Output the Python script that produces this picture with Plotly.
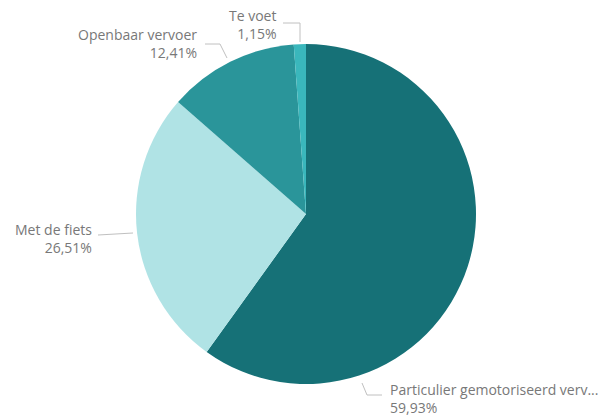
import plotly.graph_objects as go

categories = ["Particulier gemotoriseerd vervoer", "Met de fiets", "Openbaar vervoer", "Te voet"]
values = [59.93, 26.51, 12.41, 1.15]
colors = ["#167177", "#b0e3e5", "#2a959a", "#3ab7bc"]
display_names = ["Particulier gemotoriseerd verv...", "Met de fiets", "Openbaar vervoer", "Te voet"]

W, H = 613, 416
CX, CY, R = 306, 214, 170

def px(x):
    return x / W

def py(y):
    return 1 - y / H

fig = go.Figure(go.Pie(
    labels=categories,
    values=values,
    marker=dict(colors=colors, line=dict(width=0)),
    sort=False,
    direction="clockwise",
    rotation=0,
    textinfo="none",
    hoverinfo="label+percent",
    domain=dict(x=[px(CX - R), px(CX + R)], y=[py(CY + R), py(CY - R)]),
    showlegend=False,
))

def fmt(v):
    return f"{v:.2f}".replace(".", ",") + "%"

# label placement in pixels: anchor x, centre y of the two-line block
label_pos = {
    "Particulier gemotoriseerd vervoer": dict(x=389, y=398, anchor="left"),
    "Met de fiets": dict(x=93, y=239, anchor="right"),
    "Openbaar vervoer": dict(x=198, y=44, anchor="right"),
    "Te voet": dict(x=277, y=24, anchor="right"),
}
leaders = {
    "Particulier gemotoriseerd vervoer": [(362, 383), (367, 395), (382, 395)],
    "Met de fiets": [(98, 235), (133, 233)],
    "Openbaar vervoer": [(205, 44), (220, 44), (227, 58)],
    "Te voet": [(283, 23), (300, 23), (300, 42)],
}

font = dict(family="Open Sans", size=14, color="#787878")
annotations = []
shapes = []
for cat, name, v in zip(categories, display_names, values):
    p = label_pos[cat]
    annotations.append(dict(
        x=px(p["x"]), y=py(p["y"]), xref="paper", yref="paper",
        text=f"{name}<br>{fmt(v)}", showarrow=False, borderpad=0,
        xanchor=p["anchor"], yanchor="middle", align=p["anchor"],
        font=font,
    ))
    pts = leaders[cat]
    for (x0, y0), (x1, y1) in zip(pts[:-1], pts[1:]):
        shapes.append(dict(type="line", xref="paper", yref="paper",
                           x0=px(x0), y0=py(y0), x1=px(x1), y1=py(y1),
                           line=dict(color="#c0c0c0", width=1)))

fig.update_layout(
    width=W, height=H,
    margin=dict(l=0, r=0, t=0, b=0),
    paper_bgcolor="white", plot_bgcolor="white",
    annotations=annotations, shapes=shapes,
)

fig.write_html("out.html", config={"displayModeBar": False},
               post_script="document.body.style.margin='0px';")
